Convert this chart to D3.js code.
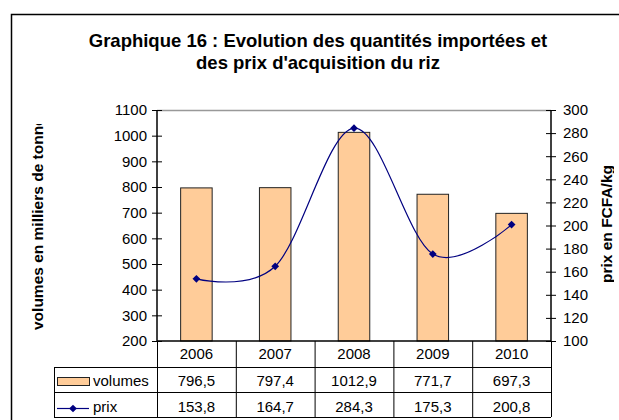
<!DOCTYPE html>
<html>
<head>
<meta charset="utf-8">
<script src="https://cdn.jsdelivr.net/npm/d3@7/dist/d3.min.js"></script>
<style>
  body { margin: 0; background: #fff; }
  svg { display: block; font-family: Arial, "Liberation Sans", sans-serif; }
</style>
</head>
<body>
<svg id="chart" width="619" height="420"></svg>
<script>
const years = ["2006", "2007", "2008", "2009", "2010"];
const volumes = [796.5, 797.4, 1012.9, 771.7, 697.3];
const prix = [153.8, 164.7, 284.3, 175.3, 200.8];
const volumeLabels = ["796,5", "797,4", "1012,9", "771,7", "697,3"];
const prixLabels = ["153,8", "164,7", "284,3", "175,3", "200,8"];
const leftTicks = [200, 300, 400, 500, 600, 700, 800, 900, 1000, 1100];
const rightTicks = [100, 120, 140, 160, 180, 200, 220, 240, 260, 280, 300];

const svg = d3.select("#chart");

// plot area
const plotL = 157, plotR = 551, plotT = 110, plotB = 341;
const rowH = [367, 392, 417];
const tableLeft = 54;
const fs = "15px";

// outer frame
svg.append("path")
  .attr("d", `M11.5,420 V14.5 H619`)
  .attr("fill", "none")
  .attr("stroke", "#000")
  .attr("stroke-width", 1.5);

// title
svg.append("text")
  .attr("x", 318).attr("y", 47)
  .attr("text-anchor", "middle")
  .style("font-size", "18.5px").style("font-weight", "bold")
  .text("Graphique 16 : Evolution des quantités importées et");
svg.append("text")
  .attr("x", 318).attr("y", 69)
  .attr("text-anchor", "middle")
  .style("font-size", "18.5px").style("font-weight", "bold")
  .text("des prix d'acquisition du riz");

const x = d3.scaleBand().domain(years).range([plotL, plotR]);
const yL = d3.scaleLinear().domain([200, 1100]).range([plotB, plotT]);
const yR = d3.scaleLinear().domain([100, 300]).range([plotB, plotT]);

// top border of plot
svg.append("line")
  .attr("x1", plotL).attr("x2", plotR)
  .attr("y1", plotT + 0.5).attr("y2", plotT + 0.5)
  .attr("stroke", "#999").attr("stroke-width", 1.5);

// bars
const barW = x.bandwidth() * 0.4;
svg.selectAll(".bar")
  .data(volumes)
  .enter()
  .append("rect")
  .attr("class", "bar")
  .attr("x", (d, i) => x(years[i]) + x.bandwidth() / 2 - barW / 2)
  .attr("y", d => yL(d))
  .attr("width", barW)
  .attr("height", d => plotB - yL(d))
  .attr("fill", "#FFCC99")
  .attr("stroke", "#222")
  .attr("stroke-width", 1);

// left axis
const axL = svg.append("g")
  .attr("transform", `translate(${plotL},0)`)
  .call(d3.axisLeft(yL).tickValues(leftTicks).tickFormat(d3.format("d")).tickSize(5).tickPadding(5));
axL.selectAll(".tick line").clone().attr("x2", 5);
// right axis
const axR = svg.append("g")
  .attr("transform", `translate(${plotR},0)`)
  .call(d3.axisRight(yR).tickValues(rightTicks).tickSize(5).tickPadding(7));
axR.selectAll(".tick line").clone().attr("x2", -5);

[axL, axR].forEach(ax => {
  ax.select(".domain").remove();
  ax.selectAll("text").style("font-size", fs).attr("fill", "#000");
  ax.selectAll(".tick line").attr("stroke", "#000");
});
svg.append("line").attr("x1", plotL).attr("x2", plotL).attr("y1", plotT).attr("y2", plotB)
  .attr("stroke", "#000").attr("stroke-width", 1.5);
svg.append("line").attr("x1", plotR).attr("x2", plotR).attr("y1", plotT).attr("y2", plotB)
  .attr("stroke", "#000").attr("stroke-width", 1.5);

// axis titles (clipped like the original)
const defs = svg.append("defs");
defs.append("clipPath").attr("id", "clipL")
  .append("rect").attr("x", 0).attr("y", 124).attr("width", 100).attr("height", 300);
defs.append("clipPath").attr("id", "clipR")
  .append("rect").attr("x", 580).attr("y", 100).attr("width", 34).attr("height", 300);

svg.append("g").attr("clip-path", "url(#clipL)")
  .append("text")
  .attr("transform", "translate(43,330) rotate(-90)")
  .style("font-size", "15.5px").style("font-weight", "bold")
  .text("volumes en milliers de tonnes");
svg.append("g").attr("clip-path", "url(#clipR)")
  .append("text")
  .attr("transform", "translate(612,283) rotate(-90)")
  .style("font-size", "15.5px").style("font-weight", "bold")
  .text("prix en FCFA/kg");

// price line
const pts = prix.map((d, i) => [x(years[i]) + x.bandwidth() / 2, yR(d)]);
svg.append("path")
  .attr("d", d3.line().curve(d3.curveCardinal.tension(0))(pts))
  .attr("fill", "none")
  .attr("stroke", "#000080")
  .attr("stroke-width", 1.2);
const diamond = d3.symbol().type(d3.symbolSquare).size(30);
svg.selectAll(".mk")
  .data(pts)
  .enter()
  .append("path")
  .attr("class", "mk")
  .attr("transform", d => `translate(${d[0]},${d[1]}) rotate(45)`)
  .attr("d", diamond)
  .attr("fill", "#000080");

// data table
const tbl = svg.append("g").attr("stroke", "#000").attr("stroke-width", 1);
tbl.append("line").attr("x1", plotL).attr("x2", plotR).attr("y1", plotB).attr("y2", plotB)
  .attr("stroke-width", 1.5);
rowH.forEach(yy => {
  tbl.append("line").attr("x1", tableLeft).attr("x2", plotR).attr("y1", yy + 0.5).attr("y2", yy + 0.5);
});
tbl.append("line").attr("x1", tableLeft + 0.5).attr("x2", tableLeft + 0.5)
  .attr("y1", rowH[0]).attr("y2", rowH[2]);
years.concat(["end"]).forEach((yr, i) => {
  const xx = i < years.length ? x(yr) : plotR;
  tbl.append("line").attr("x1", xx + 0.5).attr("x2", xx + 0.5).attr("y1", plotB).attr("y2", rowH[2]);
});

const rows = [
  { labels: years, y: 359 },
  { labels: volumeLabels, y: 386 },
  { labels: prixLabels, y: 411.5 }
];
rows.forEach(r => {
  svg.selectAll(null)
    .data(r.labels)
    .enter()
    .append("text")
    .attr("x", (d, i) => x(years[i]) + x.bandwidth() / 2)
    .attr("y", r.y)
    .attr("text-anchor", "middle")
    .style("font-size", fs)
    .text(d => d);
});

// legend keys inside table
svg.append("rect")
  .attr("x", 57.5).attr("y", 377.5).attr("width", 32).attr("height", 8)
  .attr("fill", "#FFCC99").attr("stroke", "#222");
svg.append("text").attr("x", 93).attr("y", 386).style("font-size", fs).text("volumes");
svg.append("line").attr("x1", 57).attr("x2", 89).attr("y1", 408.5).attr("y2", 408.5)
  .attr("stroke", "#000080").attr("stroke-width", 1.2);
svg.append("path").attr("transform", "translate(73,408.5) rotate(45)").attr("d", diamond).attr("fill", "#000080");
svg.append("text").attr("x", 93).attr("y", 411.5).style("font-size", fs).text("prix");
</script>
</body>
</html>
